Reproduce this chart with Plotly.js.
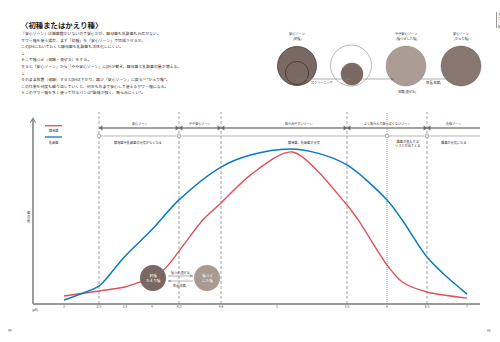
<!DOCTYPE html>
<html><head><meta charset="utf-8">
<script src="https://cdn.plot.ly/plotly-3.0.1.min.js"></script>
<style>html,body{margin:0;padding:0;background:#fff}#chart{width:500px;height:342px}</style>
</head><body><div id="chart"></div>
<script>
// ---------------- data ----------------
const phTicks = [3, 3.5, 3.8, 4, 4.3, 4.6, 5, 5.5, 6, 6.5, 7];
const tickLabels = ['3', '3.5', '3.8', '4', '4.3', '4.6', '5', '5.5', '6', '6.5', '7'];

const yeastName = '酵母菌';
const yeastPH  = [3, 3.5, 3.8, 3.91, 4, 4.14, 4.3, 4.47, 4.6, 4.81, 5.11, 5.5, 5.64, 6, 6.19, 6.5, 7];
const yeastAmt = [4.2, 6.8, 8.9, 11.5, 14.1, 18.3, 27.7, 44, 52.9, 67.5, 79.6, 51.8, 44, 20.4, 11.5, 6.3, 3.1];

const lacticName = '乳酸菌';
const lacticPH  = [3, 3.5, 3.56, 3.8, 4, 4.3, 4.6, 4.81, 5.09, 5.29, 5.5, 6, 6.19, 6.5, 6.75, 7];
const lacticAmt = [2.1, 9.4, 12, 25, 39, 54.5, 71.7, 78, 81.2, 79, 72.8, 54.5, 44, 24.6, 14.1, 5.2];

const zoneStarts = [3.5, 4.3, 4.6, 5.5, 6.5];
const zoneNames = ['安心ゾーン', 'やや安心ゾーン', '膨らみやすいゾーン', 'よく膨らんで酸っぱくないゾーン', '危険ゾーン'];
const dashedPH = [3.5, 4.3, 4.6, 5.5, 6.5];
const dottedPH = [6];
const markPH = [3.5, 4.3, 6, 6.5];
const noteLabels = ['酵母菌や乳酸菌の元気がなくなる', '酵母菌、乳酸菌が元気', '雑菌が混入する<br>リスクが出てくる', '雑菌が元気になる'];

const titleText = '〈初種またはかえり種〉';
const bodyLines = [
  '「安心ゾーン」は雑菌数がいないので安心だが、酵母菌も乳酸菌も元気がない。',
  'サワー種を使う場合、まず「初種」を「安心ゾーン」で完成させるが、',
  'このpHにおいておくと酵母菌も乳酸菌も活性化しにくい。',
  '↓',
  'そこで種つぎ（発酵・混ぜる）をする。',
  'すると「安心ゾーン」から「やや安心ゾーン」にpHが動き、酵母菌と乳酸菌の量が増える。',
  '↓',
  'そのまま放置（発酵）するとpHは下がり、再び「安心ゾーン」に戻る＝"かえり種"。',
  'この作業を何度も繰り返していくと、何年も先まで安心して使えるサワー種になる。',
  '＊このサワー種を多く使って作るパンは"酸味が強く、膨らみにくい"。'
];

// ---------------- layout helpers ----------------
const W = 500, H = 342;
const L = 33, R = 480, T = 113, B = 304;
const tickPx = [64, 99, 125, 152, 179, 221, 277, 347, 387, 427, 467]; // axis positions of the (uneven) pH ticks
function xpos(ph) {
  let i = 0;
  while (i < phTicks.length - 2 && ph > phTicks[i + 1]) i++;
  const t = (ph - phTicks[i]) / (phTicks[i + 1] - phTicks[i]);
  return tickPx[i] + t * (tickPx[i + 1] - tickPx[i]);
}
const PX = p => (p - L) / (R - L);
const PY = p => (B - p) / (B - T);
const FONT = 'Noto Sans CJK JP, Noto Sans, sans-serif';

const shapes = [];
const ann = [];
function txt(text, x, y, size, o) {
  ann.push(Object.assign({text, x: PX(x), y: PY(y), xref: 'paper', yref: 'paper', showarrow: false,
    xanchor: 'center', yanchor: 'middle', font: {size, color: '#333', family: FONT}}, o || {}));
}
function line(x0, y0, x1, y1, color, width, dash) {
  shapes.push({type: 'line', xref: 'paper', yref: 'paper', x0: PX(x0), y0: PY(y0), x1: PX(x1), y1: PY(y1),
    line: {color, width, dash: dash || 'solid'}});
}
function circ(cx, cy, r, fill, stroke, sw) {
  const k = 0.5523 * r;
  const P = (x, y) => PX(x) + ',' + PY(y);
  const d = 'M' + P(cx + r, cy) +
    ' C' + P(cx + r, cy + k) + ' ' + P(cx + k, cy + r) + ' ' + P(cx, cy + r) +
    ' C' + P(cx - k, cy + r) + ' ' + P(cx - r, cy + k) + ' ' + P(cx - r, cy) +
    ' C' + P(cx - r, cy - k) + ' ' + P(cx - k, cy - r) + ' ' + P(cx, cy - r) +
    ' C' + P(cx + k, cy - r) + ' ' + P(cx + r, cy - k) + ' ' + P(cx + r, cy) + ' Z';
  shapes.push({type: 'path', xref: 'paper', yref: 'paper', path: d, fillcolor: fill, opacity: 1,
    line: {color: stroke, width: sw}});
}
function path(pts, fill, stroke, sw) {
  const d = pts.map((p, i) => (i ? 'L' : 'M') + PX(p[0]) + ',' + PY(p[1])).join(' ') + (fill ? ' Z' : '');
  shapes.push({type: 'path', xref: 'paper', yref: 'paper', path: d, fillcolor: fill || 'rgba(0,0,0,0)', line: {color: stroke, width: sw}});
}
// thin line ending in a small filled arrowhead (pointing along x)
function arrowLine(x0, x1, y, color, w) {
  line(x0, y, x1, y, color, w);
  const s = Math.sign(x1 - x0);
  path([[x1, y], [x1 - s * 2.6, y - 1.3], [x1 - s * 2.6, y + 1.3]], color, color, 0.2);
}

// ---------------- text block (top left) ----------------
txt('<b>' + titleText + '</b>', 18.5, 24, 7.4, {xanchor: 'left', font: {size: 7.4, color: '#222', family: FONT}});
bodyLines.forEach((s, i) => txt(s, 19, 33 + i * 6.6, 3.9, {xanchor: 'left'}));

// ---------------- top diagram ----------------
const cDark = '#7a6962', cLight = '#ab9d96', cMid = '#887770';
circ(297, 66, 19.5, cDark, '#3f3430', 0.7);
circ(297, 73, 11.5, 'rgba(0,0,0,0)', '#2a211e', 0.6);
circ(351, 65.5, 20.5, '#ffffff', '#8a8a8a', 0.6);
circ(352, 74, 11, cDark, '#5a4d47', 0.4);
circ(406, 66, 20, cLight, '#8f817a', 0.4);
circ(461, 66, 20, cMid, '#6b5c55', 0.4);
arrowLine(298, 350, 79, '#7a7a7a', 0.6);
arrowLine(363, 394, 79, '#7a7a7a', 0.6);
arrowLine(421, 450, 79, '#7a7a7a', 0.6);
txt('安心ゾーン', 297, 34, 3.2);
txt('(初種)', 297, 38.7, 3.2);
txt('やや安心ゾーン', 406, 34, 3.2);
txt('(種つぎした種)', 406, 38.7, 3.2);
txt('安心ゾーン', 461, 34, 3.2);
txt('(かえり種)', 461, 38.7, 3.2);
txt('スクリーニング', 322, 83, 3.1);
txt('放置(発酵)', 433, 83, 3.2);
txt('発酵(混ぜる)', 407, 91, 3.2);

// corner tab
line(496.5, 12, 496.5, 28, '#333', 0.5);
txt('サ<br>ワ<br>︱<br>種', 499, 20, 3, {});

// ---------------- chart frame ----------------
line(L, B, R, B, '#9b9b9b', 2);
line(L, B, L, 118.5, '#9b9b9b', 2);
path([[30.3, 122.8], [L, 118.3], [35.7, 122.8]], null, '#8a8a8a', 1.1);

dashedPH.forEach(p => shapes.push({type: 'line', xref: 'x', yref: 'paper', x0: xpos(p), x1: xpos(p), y0: 0, y1: PY(112),
  line: {color: '#7a7a7a', width: 0.7, dash: '3px,2px'}}));
dottedPH.forEach(p => shapes.push({type: 'line', xref: 'x', yref: 'paper', x0: xpos(p), x1: xpos(p), y0: 0, y1: PY(112),
  line: {color: '#7a7a7a', width: 0.7, dash: '1px,1px'}}));

// zone bar
const zy = 128;
line(xpos(zoneStarts[0]), zy, R, zy, '#a2a2a2', 2);
zoneStarts.forEach((p, i) => {
  const bx = xpos(p);
  path([[bx + 0.2, zy], [bx + 3.2, zy - 2.2], [bx + 3.2, zy + 2.2]], '#666', '#666', 0.3);
  if (i > 0) path([[bx - 0.2, zy], [bx - 3.2, zy - 2.2], [bx - 3.2, zy + 2.2]], '#666', '#666', 0.3);
});
const zoneLabelX = [139, 200, 299, 387, 453];
zoneNames.forEach((n, i) => txt(n, zoneLabelX[i], 123, 3.1));

// notes row
const ny = 136;
line(xpos(zoneStarts[0]), ny, R, ny, '#9a9a9a', 0.7);
markPH.forEach(p => {
  const bx = xpos(p);
  shapes.push({type: 'rect', xref: 'paper', yref: 'paper', x0: PX(bx - 1.4), x1: PX(bx + 1.4), y0: PY(ny + 1.4), y1: PY(ny - 1.4),
    fillcolor: '#fff', line: {color: '#777', width: 0.5}});
});
const noteX = [138, 304, 407, 454];
const noteY = [142, 142, 143.5, 142];
noteLabels.forEach((n, i) => txt(n, noteX[i], noteY[i], 3.2));

// legend
line(45, 125.7, 62, 125.7, '#e0505a', 1.3);
txt(yeastName, 53.5, 130.5, 3.2);
line(45, 137, 62, 137, '#0a7bc2', 1.3);
txt(lacticName, 53.5, 142, 3.2);

// y title
txt('菌<br>の<br>量', 28, 216, 3.1);
txt('(pH)', 35, 309.3, 3.2);

// circles inside chart
circ(153, 278, 13, '#7a6962', '#7a6962', 0.1);
circ(207, 278, 13, '#a99b94', '#a99b94', 0.1);
txt('初種<br>かえり種', 153, 278, 3.6, {font: {size: 3.6, color: '#fff', family: FONT}});
txt('種つぎ<br>した種', 207, 278, 3.6, {font: {size: 3.6, color: '#fff', family: FONT}});
arrowLine(168, 193, 276, '#9a9a9a', 0.8);
arrowLine(193, 168, 281, '#9a9a9a', 0.8);
txt('種つぎ(混ぜる)', 180, 272.3, 2.9);
txt('放置(発酵)', 180, 285.5, 2.9);

// page numbers
txt('94', 10, 330, 3.3, {font: {size: 3.3, color: '#555', family: FONT}});
txt('95', 489, 330, 3.3, {font: {size: 3.3, color: '#555', family: FONT}});

// ---------------- traces ----------------
const traces = [
  {x: yeastPH.map(xpos), y: yeastAmt, name: yeastName, mode: 'lines',
   line: {color: '#e0505a', width: 1.4, shape: 'spline', smoothing: 0.8}, hoverinfo: 'skip'},
  {x: lacticPH.map(xpos), y: lacticAmt, name: lacticName, mode: 'lines',
   line: {color: '#0a7bc2', width: 1.5, shape: 'spline', smoothing: 0.9}, hoverinfo: 'skip'}
];

const layout = {
  width: W, height: H,
  margin: {l: L, r: W - R, t: T, b: H - B, pad: 0},
  paper_bgcolor: '#fff', plot_bgcolor: 'rgba(0,0,0,0)',
  showlegend: false,
  font: {family: FONT, color: '#333'},
  xaxis: {range: [L, R], showgrid: false, zeroline: false, showline: false,
    tickmode: 'array', tickvals: phTicks.map(xpos), ticktext: tickLabels, ticks: '',
    tickfont: {size: 3.3, color: '#555', family: FONT}, fixedrange: true},
  yaxis: {range: [0, 100], visible: false, fixedrange: true},
  shapes: shapes,
  annotations: ann
};
Plotly.newPlot('chart', traces, layout, {staticPlot: true, displayModeBar: false});
</script></body></html>
